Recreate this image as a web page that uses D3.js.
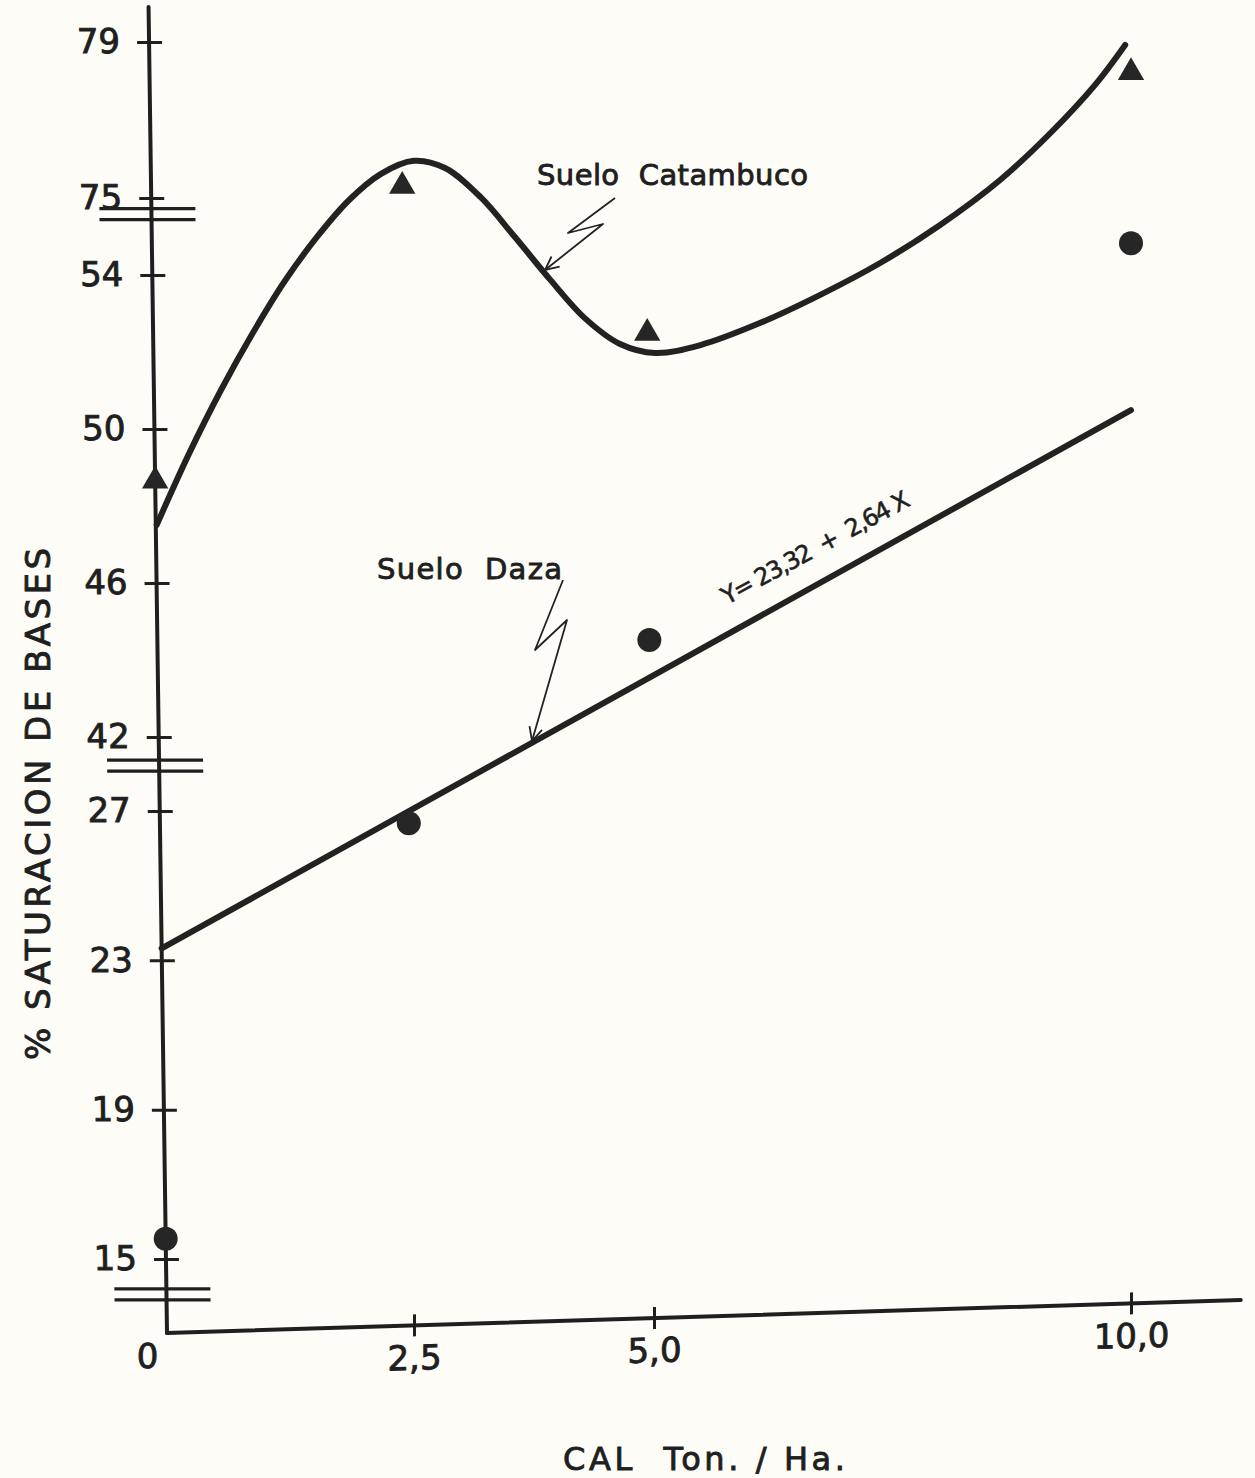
<!DOCTYPE html>
<html>
<head>
<meta charset="utf-8">
<script src="https://cdn.jsdelivr.net/npm/d3@7"></script>
<style>
  body { margin: 0; background: #fdfcf7; }
  text { font-family: "DejaVu Sans", sans-serif; fill: #1f1f1f; stroke: #1f1f1f; stroke-width: 0.9px; }
  .tick text { font-size: 34px; }
</style>
</head>
<body>
<div id="chart"></div>
<script>
// dosis de cal, Ton. / Ha.
var dosis = [0, 2.5, 5, 10];
var dosisLabels = ["0", "2,5", "5,0", "10,0"];

// % saturacion de bases medido en cada suelo
var catambuco = [48.65, 75.11, 52.10, 77.46];
var daza = [15.54, 26.47, 44.13, 54.6];

// curva trazada a mano para Suelo Catambuco
var curvaX = [0.01, 0.34, 0.67, 1.00, 1.32, 1.65, 1.97, 2.29, 2.62, 2.94, 3.30, 3.65, 4.01,
              4.36, 4.72, 5.08, 5.55, 6.17, 6.79, 7.41, 8.03, 8.65, 9.17, 9.63, 9.94];
var curvaY = [47.51, 49.32, 50.96, 52.44, 53.74, 63.14, 72.82, 75.44, 75.75, 75.54, 72.57, 61.36, 53.56,
              52.54, 51.84, 51.58, 51.75, 52.28, 52.96, 53.74, 61.15, 72.93, 75.97, 77.17, 78.17];

// recta Suelo Daza: Y = 23,32 + 2,64 X
var rectaX = [0, 10];
var rectaY = [23.32, 49.72];

// eje Y quebrado
var yTicks = [15, 19, 23, 27, 42, 46, 50, 54, 75, 79];
var yCortes = [14.05, 36.2, 70.6];

var width = 1255, height = 1478;
var x0 = 167, y0 = 1333;      // esquina de los ejes
var kx = 0.0139, ky = 0.0307; // inclinacion del papel escaneado

var svg = d3.select('#chart').append('svg')
  .attr('width', width)
  .attr('height', height)
  .style('color', '#1f1f1f');

var xs = d3.scaleLinear()
  .domain(dosis)
  .range([167, 414, 654, 1131]);

var ys = d3.scaleLinear()
  .domain([15, 27, 42, 54, 75, 79])
  .range([1259, 811, 737, 275, 198, 42]);

var xSpan = xs(10) - x0;
function proj(xv, yv) {
  var x = xs(xv), y = ys(yv);
  var f = 1 - (x - x0) / xSpan;
  return [x + kx * (y - y0) * f, y - ky * (x - x0)];
}

// ---- eje Y ----
var yAxis = d3.axisLeft(ys)
  .tickValues(yTicks)
  .tickSize(12)
  .tickPadding(17);

var gy = svg.append('g')
  .attr('transform', 'matrix(1,0,' + kx + ',1,' + (x0 - kx * y0) + ',0)')
  .call(yAxis);
gy.select('.domain').remove();
gy.attr('font-size', null).attr('font-family', null);
gy.selectAll('.tick line').attr('x1', 13).attr('stroke-width', 3);

gy.append('line')
  .attr('x1', 0).attr('x2', 0)
  .attr('y1', ys(79.9)).attr('y2', y0)
  .attr('stroke', '#1f1f1f').attr('stroke-width', 4)
  .attr('stroke-linecap', 'round');

yCortes.forEach(function (v) {
  [-5.5, 5.5].forEach(function (d) {
    gy.append('line')
      .attr('x1', -52).attr('x2', 44)
      .attr('y1', ys(v) + d).attr('y2', ys(v) + d)
      .attr('stroke', '#1f1f1f').attr('stroke-width', 3.2);
  });
});

// ---- eje X ----
var xAxis = d3.axisBottom(xs)
  .tickValues(dosis)
  .tickFormat(function (d) { return dosisLabels[dosis.indexOf(d)]; })
  .tickSize(11);

var gx = svg.append('g')
  .attr('transform', 'matrix(1,' + (-ky) + ',0,1,0,' + (ky * x0) + ')')
  .append('g')
  .attr('transform', 'translate(0,' + y0 + ')')
  .call(xAxis);
gx.select('.domain').remove();
gx.attr('font-size', null).attr('font-family', null);
gx.selectAll('.tick line').attr('y1', -11).attr('stroke-width', 3);
gx.selectAll('.tick text').attr('y', 32).attr('dy', '0.36em');
gx.selectAll('.tick').filter(function (d) { return d === 0; })
  .call(function (t) {
    t.select('line').remove();
    t.select('text').attr('x', -20).attr('y', 22);
  });

gx.append('line')
  .attr('x1', x0).attr('x2', xs(11.15))
  .attr('y1', 0).attr('y2', 0)
  .attr('stroke', '#1f1f1f').attr('stroke-width', 4)
  .attr('stroke-linecap', 'round');

// ---- curvas ----
var line = d3.line();

svg.append('path')
  .attr('d', d3.line().curve(d3.curveCatmullRom.alpha(0.5))(curvaX.map(function (x, i) { return proj(x, curvaY[i]); })))
  .attr('fill', 'none')
  .attr('stroke', '#222')
  .attr('stroke-width', 6)
  .attr('stroke-linecap', 'round')
  .attr('stroke-linejoin', 'round');

svg.append('path')
  .attr('d', line(rectaX.map(function (x, i) { return proj(x, rectaY[i]); })))
  .attr('fill', 'none')
  .attr('stroke', '#222')
  .attr('stroke-width', 6)
  .attr('stroke-linecap', 'round');

// ---- puntos ----
svg.selectAll('path.tri').data(catambuco)
  .enter().append('path')
  .attr('class', 'tri')
  .attr('d', d3.symbol(d3.symbolTriangle, 300))
  .attr('transform', function (d, i) {
    var p = proj(dosis[i], d);
    return 'translate(' + p[0] + ',' + p[1] + ')';
  })
  .attr('fill', '#262626');

svg.selectAll('circle.dot').data(daza)
  .enter().append('circle')
  .attr('class', 'dot')
  .attr('cx', function (d, i) { return proj(dosis[i], d)[0]; })
  .attr('cy', function (d, i) { return proj(dosis[i], d)[1]; })
  .attr('r', 12)
  .attr('fill', '#262626');

// ---- anotaciones ----
function flecha(pts) {
  var tip = pts[pts.length - 1], from = pts[pts.length - 2];
  var a = Math.atan2(from[1] - tip[1], from[0] - tip[0]), len = 15, ang = 0.45;
  svg.append('path')
    .attr('d', line(pts))
    .attr('fill', 'none').attr('stroke', '#222').attr('stroke-width', 1.8)
    .attr('stroke-linejoin', 'round');
  svg.append('path')
    .attr('d', line([[tip[0] + len * Math.cos(a + ang), tip[1] + len * Math.sin(a + ang)], tip,
                     [tip[0] + len * Math.cos(a - ang), tip[1] + len * Math.sin(a - ang)]]))
    .attr('fill', 'none').attr('stroke', '#222').attr('stroke-width', 1.8);
}

flecha([[615, 198], [568, 233], [603, 224], [545, 270]]);
flecha([[563, 580], [535, 650], [567, 620], [532, 741]]);

svg.append('text')
  .attr('x', 537).attr('y', 185)
  .attr('font-size', 29)
  .attr('textLength', 271).attr('lengthAdjust', 'spacing')
  .style('white-space', 'pre')
  .text('Suelo  Catambuco');

svg.append('text')
  .attr('x', 377).attr('y', 579)
  .attr('font-size', 29)
  .attr('textLength', 185).attr('lengthAdjust', 'spacing')
  .style('white-space', 'pre')
  .text('Suelo  Daza');

svg.append('text')
  .attr('transform', 'translate(727,605) rotate(-28.5)')
  .attr('font-size', 24)
  .attr('textLength', 210).attr('lengthAdjust', 'spacing')
  .style('white-space', 'pre')
  .style('stroke-width', '0.6px')
  .text('Y= 23,32  +  2,64 X');

svg.append('text')
  .attr('transform', 'translate(50,804) rotate(-90)')
  .attr('text-anchor', 'middle')
  .attr('font-size', 34)
  .attr('textLength', 512).attr('lengthAdjust', 'spacing')
  .style('white-space', 'pre')
  .text('% SATURACION DE BASES');

svg.append('text')
  .attr('x', 563).attr('y', 1470)
  .attr('font-size', 32)
  .attr('textLength', 282).attr('lengthAdjust', 'spacing')
  .style('white-space', 'pre')
  .text('CAL  Ton. / Ha.');
</script>
</body>
</html>
